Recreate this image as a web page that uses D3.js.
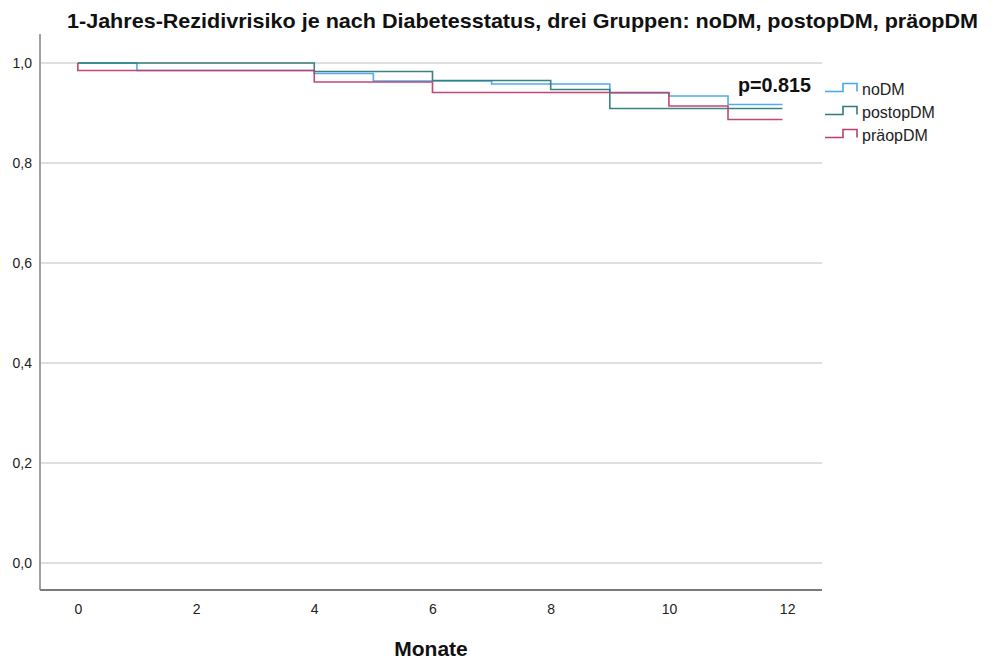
<!DOCTYPE html>
<html>
<head>
<meta charset="utf-8">
<script src="https://cdn.jsdelivr.net/npm/d3@7"></script>
<style>
  html, body { margin: 0; padding: 0; background: #fff; }
  svg { display: block; font-family: "Liberation Sans", Arial, sans-serif; }
</style>
</head>
<body>
<svg id="chart" width="999" height="661"></svg>
<script>
// Kaplan-Meier step data: survival proportion after each event month
const groups = ["noDM", "postopDM", "präopDM"];
const noDMTimes = [0, 1, 4, 5, 7, 9, 10, 11];
const noDMSurv = [1.0, 0.985, 0.979, 0.964, 0.958, 0.94, 0.934, 0.917];
const postopTimes = [0, 4, 6, 8, 9];
const postopSurv = [1.0, 0.983, 0.965, 0.947, 0.909];
const praeopTimes = [0, 0, 4, 6, 10, 11];
const praeopSurv = [1.0, 0.985, 0.962, 0.941, 0.914, 0.887];
const followUpEnd = 11.92;
const xTicks = [0, 2, 4, 6, 8, 10, 12];
const yTicks = [0, 0.2, 0.4, 0.6, 0.8, 1.0];
const colors = ["#45a9ea", "#2f7c77", "#bd3e6e"];
const pValue = "p=0.815";

const svg = d3.select("#chart");
const plot = { left: 40, right: 822, top: 34, bottom: 590 };

const x = d3.scaleLinear().domain([-0.64, 12.59]).range([plot.left, plot.right]);
const y = d3.scaleLinear().domain([-0.054, 1.058]).range([plot.bottom, plot.top]);

// Horizontal grid lines
svg.append("g").selectAll("line").data(yTicks).join("line")
  .attr("x1", plot.left + 1).attr("x2", plot.right)
  .attr("y1", d => y(d)).attr("y2", d => y(d))
  .attr("stroke", "#d4d4d4").attr("stroke-width", 1.6);

// Axes (labels only, no tick marks)
const yAxis = svg.append("g").attr("transform", `translate(${plot.left},0)`)
  .call(d3.axisLeft(y).tickValues(yTicks).tickSize(0).tickPadding(8)
    .tickFormat(d => d3.format(".1f")(d).replace(".", ",")));
yAxis.select(".domain").remove();
yAxis.selectAll("text").attr("font-size", 14).attr("fill", "#222")
  .attr("font-family", "Liberation Sans, Arial, sans-serif");

const xAxis = svg.append("g").attr("transform", `translate(0,${plot.bottom})`)
  .call(d3.axisBottom(x).tickValues(xTicks).tickSize(0).tickPadding(14)
    .tickFormat(d3.format("d")));
xAxis.select(".domain").remove();
xAxis.selectAll("text").attr("font-size", 14).attr("fill", "#222")
  .attr("font-family", "Liberation Sans, Arial, sans-serif");

svg.append("line").attr("x1", plot.left).attr("x2", plot.left)
  .attr("y1", plot.top).attr("y2", plot.bottom)
  .attr("stroke", "#8a8a8a").attr("stroke-width", 1.6);
svg.append("line").attr("x1", plot.left).attr("x2", plot.right)
  .attr("y1", plot.bottom).attr("y2", plot.bottom)
  .attr("stroke", "#7a7a7a").attr("stroke-width", 2);

// Survival curves
const series = [
  { name: groups[0], times: noDMTimes, surv: noDMSurv },
  { name: groups[1], times: postopTimes, surv: postopSurv },
  { name: groups[2], times: praeopTimes, surv: praeopSurv }
];
const line = d3.line().x(d => x(d[0])).y(d => y(d[1])).curve(d3.curveStepAfter);
series.forEach((s, i) => {
  const pts = s.times.map((t, k) => [t, s.surv[k]]);
  pts.push([followUpEnd, s.surv[s.surv.length - 1]]);
  svg.append("path").datum(pts)
    .attr("d", line).attr("fill", "none")
    .attr("stroke", colors[i]).attr("stroke-width", 1.6)
    .attr("stroke-opacity", 0.95);
});

// Log-rank p value
svg.append("text").attr("x", 738).attr("y", 92)
  .attr("font-size", 20).attr("font-weight", "bold").attr("fill", "#111")
  .attr("textLength", 73).attr("lengthAdjust", "spacingAndGlyphs")
  .text(pValue);

// Legend with step symbols
const legend = svg.append("g");
groups.forEach((g, i) => {
  const cy = 87.5 + i * 23;
  legend.append("path")
    .attr("d", `M825,${cy + 4}H843V${cy - 4}H857V${cy + 4}`)
    .attr("fill", "none").attr("stroke", colors[i]).attr("stroke-width", 1.6);
  legend.append("text").attr("x", 862).attr("y", cy + 7)
    .attr("font-size", 16).attr("fill", "#222").text(g);
});

// Title and axis title
svg.append("text").attr("x", 67).attr("y", 28)
  .attr("font-size", 21).attr("font-weight", "bold").attr("fill", "#111")
  .attr("textLength", 911).attr("lengthAdjust", "spacingAndGlyphs")
  .text("1-Jahres-Rezidivrisiko je nach Diabetesstatus, drei Gruppen: noDM, postopDM, präopDM");

svg.append("text").attr("x", (plot.left + plot.right) / 2).attr("y", 656)
  .attr("text-anchor", "middle").attr("font-size", 21).attr("font-weight", "bold")
  .attr("fill", "#111").text("Monate");
</script>
</body>
</html>
